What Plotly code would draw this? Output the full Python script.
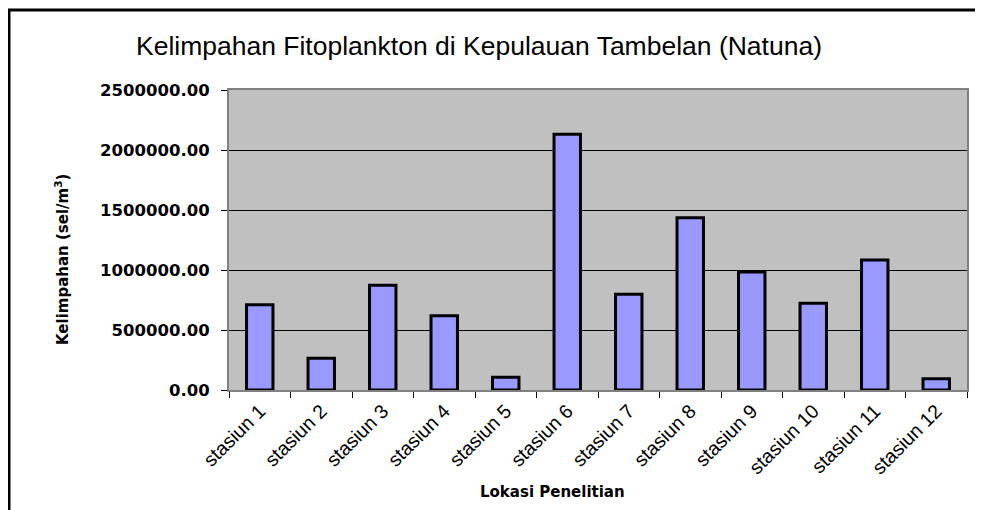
import plotly.graph_objects as go

categories = ["stasiun 1", "stasiun 2", "stasiun 3", "stasiun 4", "stasiun 5", "stasiun 6",
              "stasiun 7", "stasiun 8", "stasiun 9", "stasiun 10", "stasiun 11", "stasiun 12"]
kelimpahan = [710000, 265000, 872000, 619000, 106000, 2131000,
              797000, 1436000, 983000, 722000, 1083000, 94000]
y_ticks = [0, 500000, 1000000, 1500000, 2000000, 2500000]

OFF = 8  # page body margin
W, H = 983 - OFF, 510 - OFF
# plot area in screen coords: x 229..967, y 90..390
L = 229 - OFF
T = 90 - OFF
R = W - (967 - OFF)
B = H - (390 - OFF)
pw, ph = W - L - R, H - T - B

def px(x):
    return (x - OFF - L) / pw

def py(y):
    return (H - B - (y - OFF)) / ph

fig = go.Figure(go.Bar(
    x=categories, y=kelimpahan,
    marker=dict(color="#9999FF", line=dict(color="black", width=3)),
))

fig.update_layout(
    width=W, height=H,
    margin=dict(l=L, r=R, t=T, b=B),
    paper_bgcolor="white",
    plot_bgcolor="#C0C0C0",
    bargap=0.57,
    showlegend=False,
    font=dict(family="Liberation Sans", color="black"),
    title=dict(text="Kelimpahan Fitoplankton di Kepulauan Tambelan (Natuna)",
               x=(479 - OFF) / W, xanchor="center", y=1 - (46 - OFF) / H, yanchor="middle",
               xref="container", yref="container",
               font=dict(family="Liberation Sans", size=26.5, color="black")),
    xaxis=dict(
        tickson="boundaries", ticks="outside", ticklen=6, tickcolor="black",
        tickangle=-45, tickfont=dict(family="Liberation Sans", size=19.5, color="black"),
        showline=True, linecolor="#808080", linewidth=2, mirror=True,
        showgrid=False,
    ),
    yaxis=dict(
        range=[0, 2500000], tickvals=y_ticks, tickformat=".2f",
        ticks="outside", ticklen=6, tickcolor="black", ticklabelstandoff=8,
        tickfont=dict(family="DejaVu Sans", size=16.5, color="black", weight="bold"),
        showline=True, linecolor="#808080", linewidth=2, mirror=True,
        showgrid=True, gridcolor="black", gridwidth=1,
        zeroline=False,
    ),
    annotations=[
        dict(text="Kelimpahan (sel/m<sup>3</sup>)", textangle=-90,
             xref="paper", yref="paper", x=px(62), y=py(260),
             xanchor="center", yanchor="middle", showarrow=False,
             font=dict(family="DejaVu Sans", size=15, color="black", weight="bold")),
        dict(text="Lokasi Penelitian",
             xref="paper", yref="paper", x=px(552), y=py(492),
             xanchor="center", yanchor="middle", showarrow=False,
             font=dict(family="DejaVu Sans", size=15, color="black", weight="bold")),
    ],
    shapes=[
        dict(type="line", xref="paper", yref="paper",
             x0=px(8), x1=px(983 + 10), y0=py(10), y1=py(10),
             line=dict(color="black", width=3)),
        dict(type="line", xref="paper", yref="paper",
             x0=px(9), x1=px(9), y0=py(10), y1=py(510 + 10),
             line=dict(color="black", width=3)),
    ],
)

fig.write_html("out.html")
